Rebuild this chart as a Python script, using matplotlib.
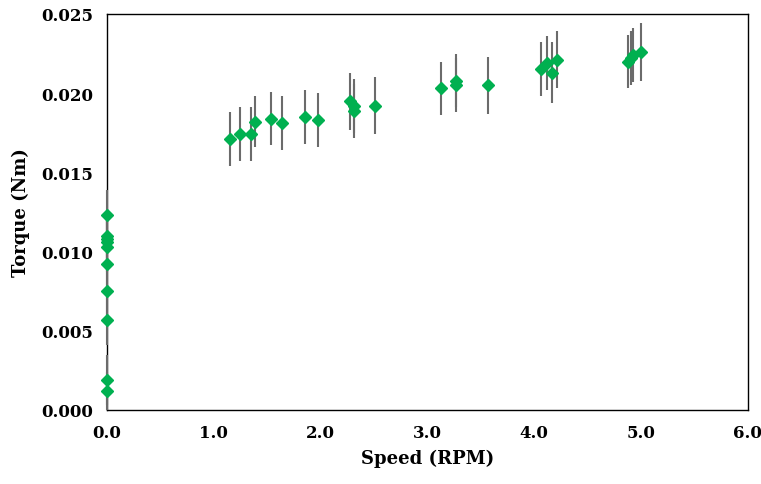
import numpy as np
import matplotlib
matplotlib.use('Agg')
import matplotlib.pyplot as plt

# data
speed = [0.0, 0.0, 0.0, 0.0, 0.0, 0.0, 0.0, 0.0, 0.0, 0.0,
         1.15, 1.25, 1.35, 1.39, 1.54, 1.64, 1.85, 1.98,
         2.28, 2.31, 2.31, 2.51,
         3.13, 3.27, 3.27, 3.57,
         4.06, 4.12, 4.17, 4.21,
         4.88, 4.91, 4.93, 5.00]
torque = [0.0123, 0.0110, 0.0108, 0.0106, 0.0103, 0.0092, 0.0075, 0.0057, 0.0019, 0.0012,
          0.0171, 0.0174, 0.0174, 0.0182, 0.0184, 0.0181, 0.0185, 0.0183,
          0.0195, 0.0192, 0.0189, 0.0192,
          0.0203, 0.0205, 0.0208, 0.0205,
          0.0215, 0.0219, 0.0213, 0.0221,
          0.0220, 0.0222, 0.0224, 0.0226]
torque_err = [0.0016, 0.0016, 0.0016, 0.0016, 0.0016, 0.0016, 0.0016, 0.0016, 0.0016, 0.0012,
              0.0017, 0.0017, 0.0017, 0.0016, 0.0017, 0.0017, 0.0017, 0.0017,
              0.0018, 0.0017, 0.0017, 0.0018,
              0.0017, 0.0017, 0.0017, 0.0018,
              0.0017, 0.0017, 0.0019, 0.0018,
              0.0017, 0.0017, 0.0017, 0.0018]

plt.rcParams['font.family'] = ['DejaVu Serif']

fig = plt.figure(figsize=(7.61, 4.85), dpi=100)
ax = fig.add_axes([0.1406, 0.1526, 0.842, 0.8165])

eb = ax.errorbar(speed, torque, yerr=torque_err, fmt='D', color='#00B050',
                 markersize=6.5, ecolor='#6b6b6b', elinewidth=1.5, capsize=0,
                 zorder=3)
# let the zero-speed points sit on top of the left spine
for artist in eb.get_children():
    artist.set_clip_on(False)

ax.set_xlim(0, 6)
ax.set_ylim(0, 0.025)
ax.set_xticks(np.arange(0, 6.1, 1.0))
ax.set_xticklabels([f'{v:.1f}' for v in np.arange(0, 6.1, 1.0)])
ax.set_yticks(np.arange(0, 0.0251, 0.005))
ax.set_yticklabels([f'{v:.3f}' for v in np.arange(0, 0.0251, 0.005)])
ax.tick_params(length=0, pad=10, labelsize=12)
for lab in ax.get_xticklabels() + ax.get_yticklabels():
    lab.set_fontweight('bold')
for s in ax.spines.values():
    s.set_linewidth(1.0)
    s.set_zorder(2)

ax.set_xlabel('Speed (RPM)', fontsize=13, fontweight='bold', labelpad=6)
ax.set_ylabel('Torque (Nm)', fontsize=13, fontweight='bold', labelpad=8)

fig.savefig('out.png', dpi=100)
